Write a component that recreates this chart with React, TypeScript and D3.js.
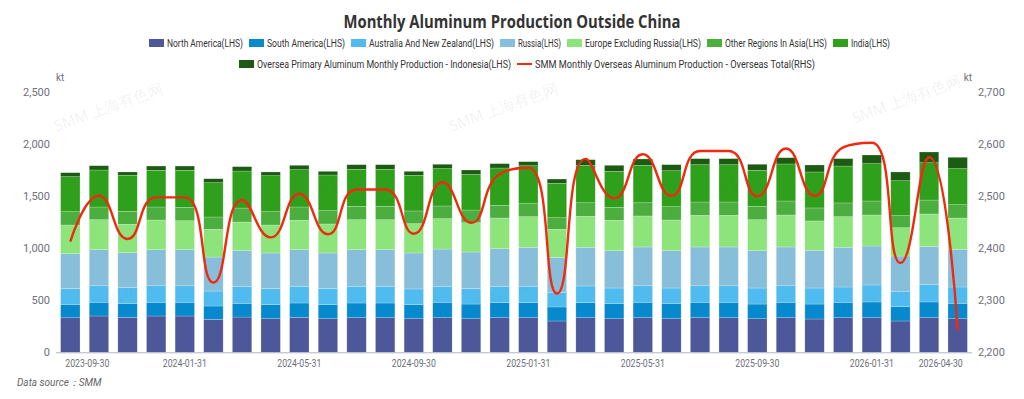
import React from "react";
import * as d3 from "d3";

// ---------- DATA ----------
const months = [
  "2023-09-30", "2023-10-31", "2023-11-30", "2023-12-31",
  "2024-01-31", "2024-02-29", "2024-03-31", "2024-04-30", "2024-05-31", "2024-06-30",
  "2024-07-31", "2024-08-31", "2024-09-30", "2024-10-31", "2024-11-30", "2024-12-31",
  "2025-01-31", "2025-02-28", "2025-03-31", "2025-04-30", "2025-05-31", "2025-06-30",
  "2025-07-31", "2025-08-31", "2025-09-30", "2025-10-31", "2025-11-30", "2025-12-31",
  "2026-01-31", "2026-02-28", "2026-03-31", "2026-04-30",
];

const tickLabels = [
  "2023-09-30", "2024-01-31", "2024-05-31", "2024-09-30", "2025-01-31",
  "2025-05-31", "2025-09-30", "2026-01-31", "2026-04-30",
];

const northAmerica = [332, 349, 336, 349, 349, 317, 339, 323, 336, 323, 333, 333, 323, 333, 323, 333, 333, 301, 333, 323, 333, 323, 333, 333, 323, 333, 320, 333, 333, 301, 333, 323];
const southAmerica = [129, 132, 131, 132, 132, 128, 132, 135, 138, 135, 141, 141, 135, 148, 141, 144, 144, 135, 144, 144, 148, 144, 148, 148, 141, 148, 144, 148, 151, 138, 151, 148];
const australiaNZ = [151, 159, 154, 159, 159, 144, 160, 157, 161, 157, 157, 157, 151, 150, 148, 154, 158, 137, 161, 151, 159, 151, 159, 159, 154, 159, 154, 147, 163, 148, 166, 157];
const russia = [336, 347, 337, 347, 347, 327, 346, 340, 352, 340, 356, 356, 346, 362, 352, 365, 375, 340, 372, 359, 373, 359, 373, 373, 359, 373, 363, 382, 375, 339, 369, 362];
const europeExRussia = [276, 288, 273, 285, 278, 267, 276, 269, 282, 279, 288, 288, 282, 292, 282, 295, 294, 270, 298, 292, 298, 295, 304, 304, 298, 307, 282, 294, 298, 272, 311, 301];
const otherAsia = [128, 122, 125, 125, 129, 118, 134, 128, 128, 128, 129, 129, 122, 122, 122, 122, 125, 111, 130, 125, 127, 128, 128, 128, 129, 135, 125, 132, 135, 116, 134, 128];
const india = [337, 356, 346, 353, 356, 330, 356, 346, 359, 343, 356, 356, 343, 359, 343, 359, 365, 331, 360, 346, 360, 346, 359, 359, 346, 356, 346, 355, 359, 336, 359, 347];
const indonesia = [38, 41, 32, 41, 41, 38, 42, 36, 42, 35, 44, 44, 38, 42, 42, 42, 39, 41, 54, 58, 61, 58, 58, 58, 58, 60, 67, 71, 83, 84, 103, 109];
const overseasTotal = [2413, 2501, 2418, 2498, 2498, 2334, 2493, 2421, 2505, 2427, 2513, 2513, 2428, 2527, 2449, 2543, 2555, 2313, 2572, 2496, 2581, 2501, 2587, 2587, 2500, 2592, 2501, 2594, 2603, 2372, 2575, 2242];

const leftTicks = [0, 500, 1000, 1500, 2000, 2500];
const rightTicks = [2200, 2300, 2400, 2500, 2600, 2700];

const barSeriesNames = [
  "North America(LHS)", "South America(LHS)", "Australia And New Zealand(LHS)", "Russia(LHS)",
  "Europe Excluding Russia(LHS)", "Other Regions In Asia(LHS)", "India(LHS)",
  "Oversea Primary Aluminum Monthly Production - Indonesia(LHS)",
];
const lineSeriesName = "SMM Monthly Overseas Aluminum Production - Overseas Total(RHS)";
const barSeriesValues = [northAmerica, southAmerica, australiaNZ, russia, europeExRussia, otherAsia, india, indonesia];

// ---------- STYLE ----------
const colors = ["#4c5899", "#0789cd", "#4fbbee", "#87bfdb", "#8ce47b", "#4cae3f", "#2fa01b", "#1b5c12"];
const lineColor = "#f0290f";
const legendTextWidths = [76, 78, 125, 43, 116, 102, 39, 254, 280];

const W = 1024;
const H = 399;
const plotLeft = 56;
const plotRight = 972;
const yBottom = 352.3;
const yTop = 92.3;
const FONT = "'Open Sans', 'Noto Sans', sans-serif";
const NARROW = "'Roboto', sans-serif";

function echartsSmoothPath(pts: [number, number][], smooth = 0.5): string {
  const p = d3.path();
  let cpx0 = 0, cpy0 = 0;
  for (let i = 0; i < pts.length; i++) {
    const [x, y] = pts[i];
    if (i === 0) { p.moveTo(x, y); cpx0 = x; cpy0 = y; continue; }
    const [prevX, prevY] = pts[i - 1];
    let nextCpx0: number, nextCpy0: number, cpx1: number, cpy1: number;
    if (i === pts.length - 1) {
      nextCpx0 = x; nextCpy0 = y; cpx1 = x; cpy1 = y;
    } else {
      const [nextX, nextY] = pts[i + 1];
      let vx = nextX - prevX, vy = nextY - prevY;
      const lenPrev = Math.hypot(x - prevX, y - prevY);
      const lenNext = Math.hypot(nextX - x, nextY - y);
      const ratio = lenNext / (lenNext + lenPrev);
      cpx1 = x + vx * smooth * ratio; cpy1 = y + vy * smooth * ratio;
      cpx1 = Math.min(cpx1, Math.max(nextX, x)); cpy1 = Math.min(cpy1, Math.max(nextY, y));
      cpx1 = Math.max(cpx1, Math.min(nextX, x)); cpy1 = Math.max(cpy1, Math.min(nextY, y));
      vx = cpx1 - x; vy = cpy1 - y;
      nextCpx0 = x - vx * lenPrev / lenNext; nextCpy0 = y - vy * lenPrev / lenNext;
      nextCpx0 = Math.min(nextCpx0, Math.max(prevX, x)); nextCpy0 = Math.min(nextCpy0, Math.max(prevY, y));
      nextCpx0 = Math.max(nextCpx0, Math.min(prevX, x)); nextCpy0 = Math.max(nextCpy0, Math.min(prevY, y));
      vx = x - nextCpx0; vy = y - nextCpy0;
      cpx1 = x + vx * lenNext / lenPrev; cpy1 = y + vy * lenNext / lenPrev;
    }
    p.bezierCurveTo(cpx0, cpy0, nextCpx0, nextCpy0, x, y);
    cpx0 = cpx1; cpy0 = cpy1;
  }
  return p.toString();
}

export default function App() {
  const x = d3.scaleBand<string>().domain(months).range([plotLeft, plotRight]).paddingInner(0.322).paddingOuter(0.161);
  const yL = d3.scaleLinear().domain([0, 2500]).range([yBottom, yTop]);
  const yR = d3.scaleLinear().domain([2200, 2700]).range([yBottom, yTop]);

  const keys = barSeriesNames;
  const table = months.map((m, i) => {
    const row: any = { month: m };
    keys.forEach((k, j) => { row[k] = barSeriesValues[j][i]; });
    return row;
  });
  const stacked = d3.stack<any>().keys(keys)(table);

  const linePts: [number, number][] = months.map((m, i) => [x(m)! + x.bandwidth() / 2, yR(overseasTotal[i])]);
  const linePath = echartsSmoothPath(linePts, 0.5);

  const legendItems = [...barSeriesNames, lineSeriesName];
  const rows = [
    { start: 149, y: 43, items: [0, 1, 2, 3, 4, 5, 6] },
    { start: 239, y: 64, items: [7, 8] },
  ];

  const watermarks: [number, number, number][] = [
    [110, 112, 0.07], [505, 112, 0.07], [908, 104, 0.07],
    [320, 195, 0.035], [720, 195, 0.035], [100, 310, 0.035], [480, 310, 0.035], [870, 310, 0.035],
  ];

  return (
    <svg width={W} height={H} style={{ position: "absolute", left: 0, top: 0, background: "#fff" }} fontFamily={FONT}>
      <rect x={0} y={0} width={W} height={H} fill="#fff" />
      <text x={512} y={28} textAnchor="middle" fontSize={18} fontWeight={700} fill="#333" textLength={337} lengthAdjust="spacingAndGlyphs">
        Monthly Aluminum Production Outside China
      </text>

      {rows.map((r, ri) => {
        let cx = r.start;
        return (
          <g key={ri}>
            {r.items.map((idx) => {
              const sx = cx;
              const tw = legendTextWidths[idx];
              cx += 18 + tw + 6;
              const isLine = idx === 8;
              return (
                <g key={idx}>
                  {isLine ? (
                    <line x1={sx} x2={sx + 15} y1={r.y} y2={r.y} stroke={lineColor} strokeWidth={2} />
                  ) : (
                    <rect x={sx} y={r.y - 4} width={15} height={8} fill={colors[idx]} />
                  )}
                  <text x={sx + 18} y={r.y + 3.6} fontSize={10} fontFamily={NARROW} fill="#333" textLength={tw} lengthAdjust="spacingAndGlyphs">
                    {legendItems[idx]}
                  </text>
                </g>
              );
            })}
          </g>
        );
      })}

      <text x={56} y={81} fontSize={10} fontFamily={NARROW} fill="#6e7079">kt</text>
      <text x={972} y={81} fontSize={10} fontFamily={NARROW} fill="#6e7079" textAnchor="end">kt</text>

      {leftTicks.map((t) => (
        <text key={"l" + t} x={50} y={yL(t) + 3.5} fontSize={11} fontFamily={NARROW} fill="#6e7079" textAnchor="end">
          {d3.format(",")(t)}
        </text>
      ))}
      {rightTicks.map((t) => (
        <text key={"r" + t} x={978} y={yR(t) + 3.5} fontSize={11} fontFamily={NARROW} fill="#6e7079" textAnchor="start">
          {d3.format(",")(t)}
        </text>
      ))}

      {stacked.map((s, si) => (
        <g key={s.key} fill={colors[si]}>
          {s.map((d, i) => (
            <rect
              key={i}
              x={x(months[i])}
              y={yL(d[1])}
              width={x.bandwidth()}
              height={yL(d[0]) - yL(d[1])}
              stroke="#fff"
              strokeOpacity={0.35}
              strokeWidth={0.6}
            />
          ))}
        </g>
      ))}

      <line x1={plotLeft} x2={plotRight} y1={yBottom + 0.5} y2={yBottom + 0.5} stroke="#b0b4c2" strokeWidth={1} />

      {tickLabels.map((lab, i) => {
        const cx = x(lab)! + x.bandwidth() / 2;
        const first = i === 0;
        const last = i === tickLabels.length - 1;
        const anchor = first ? "start" : last ? "end" : "middle";
        const px = first ? cx - 5 : last ? cx + 5 : cx;
        return (
          <text key={lab} x={px} y={367} fontSize={11} fontFamily={NARROW} fill="#6e7079" textAnchor={anchor} textLength={44} lengthAdjust="spacingAndGlyphs">
            {lab}
          </text>
        );
      })}

      <path d={linePath} fill="none" stroke={lineColor} strokeWidth={2.4} strokeLinejoin="round" />

      {watermarks.map(([wx, wy, op], i) => (
        <text key={i} x={wx} y={wy} fontSize={15} fill="#000" fillOpacity={op} textAnchor="middle" transform={`rotate(-20 ${wx} ${wy})`}>
          SMM 上海有色网
        </text>
      ))}

      <text x={17} y={386} fontSize={10} fontFamily={NARROW} fontStyle="italic" fill="#666">Data source：SMM</text>
    </svg>
  );
}
